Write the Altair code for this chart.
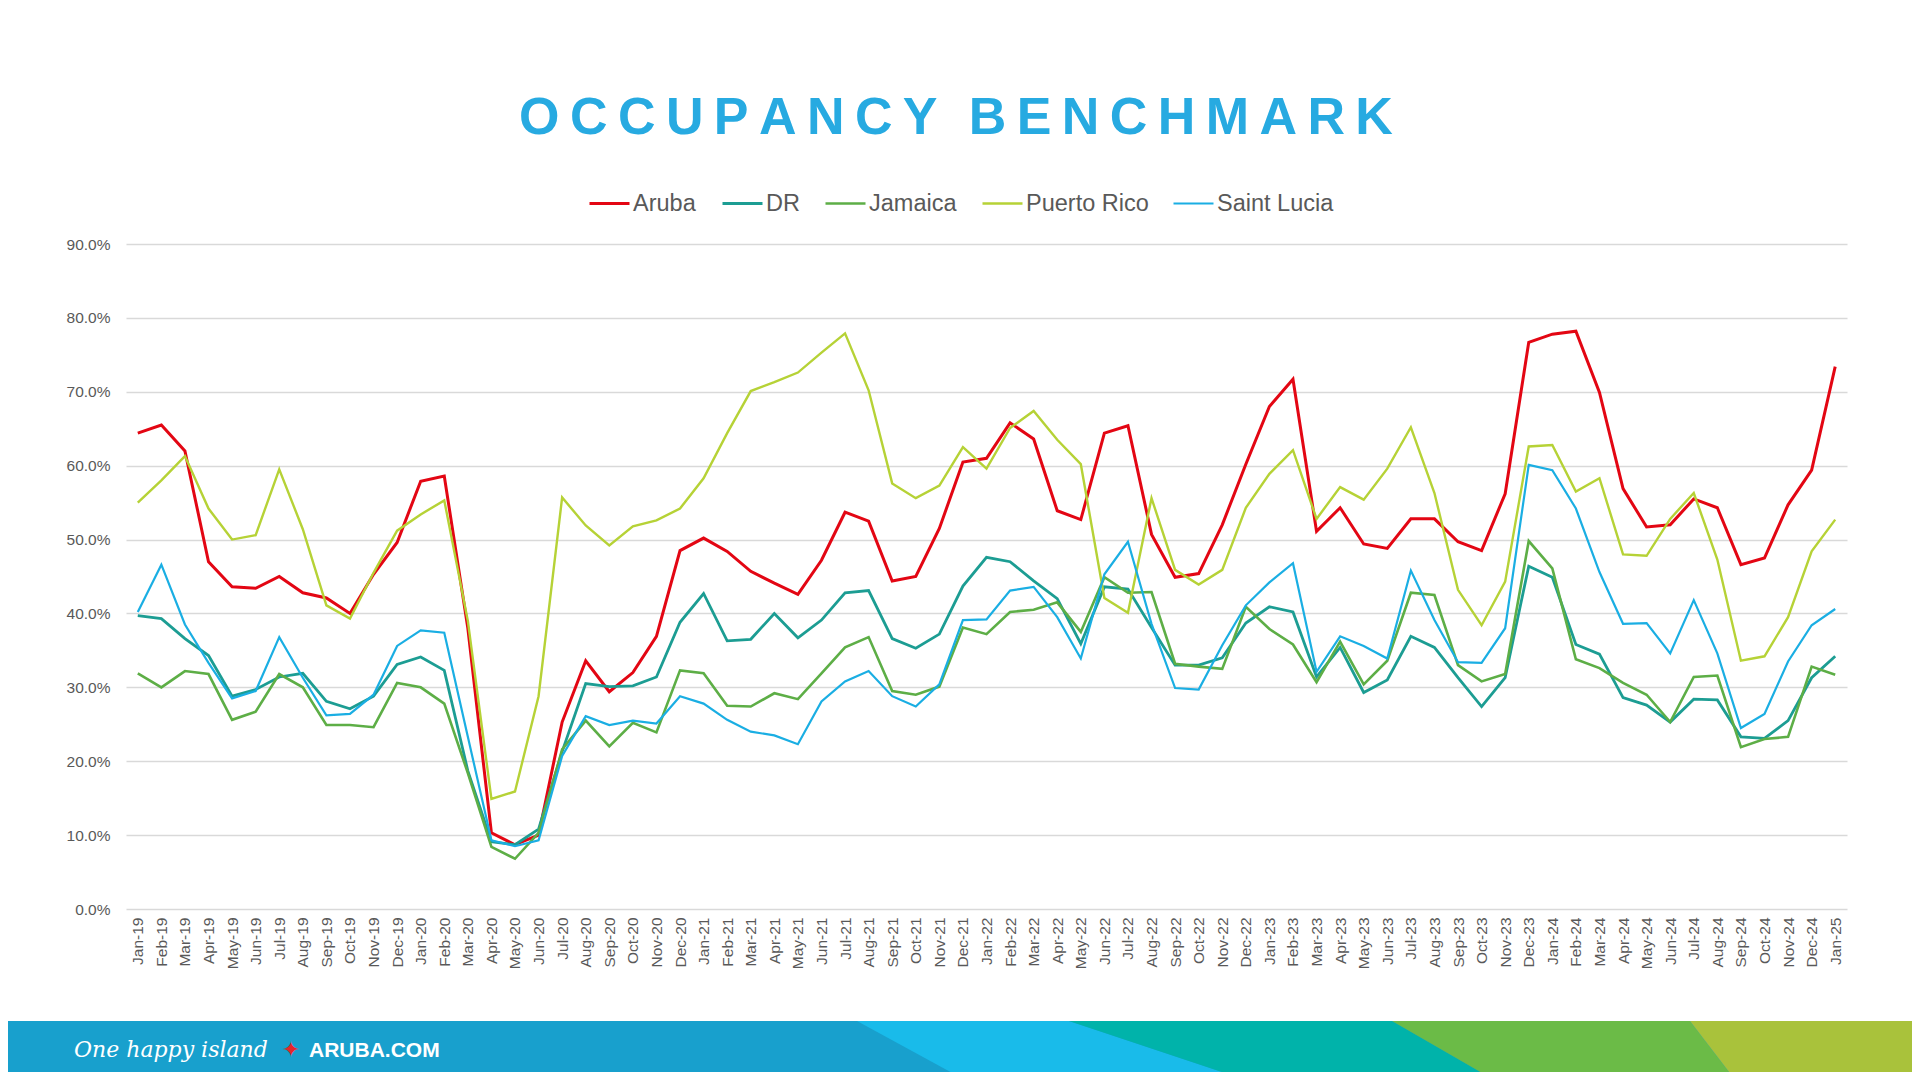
import altair as alt
import pandas as pd

years = ["19", "20", "21", "22", "23", "24"]
mnames = ["Jan", "Feb", "Mar", "Apr", "May", "Jun", "Jul", "Aug", "Sep", "Oct", "Nov", "Dec"]
months = [f"{m}-{y}" for y in years for m in mnames] + ["Jan-25"]

series_names = ["Aruba", "DR", "Jamaica", "Puerto Rico", "Saint Lucia"]
series_colors = ["#E30613", "#1C9D93", "#5DAE46", "#B6D236", "#1AAEE3"]
series_widths = [3.0, 2.2, 2.2, 2.2, 2.2]

aruba = [64.4, 65.5, 62.0, 47.0, 43.6, 43.4, 45.0, 42.8, 42.1, 40.0, 45.3, 49.6,
         57.9, 58.6, 38.0, 10.3, 8.7, 10.0, 25.3, 33.6, 29.4, 32.0, 36.9, 48.5,
         50.2, 48.4, 45.7, 44.1, 42.6, 47.2, 53.7, 52.5, 44.4, 45.0, 51.5, 60.5,
         61.0, 65.8, 63.6, 53.9, 52.7, 64.4, 65.4, 50.7, 44.9, 45.4, 52.0, 60.2,
         68.0, 71.7, 51.1, 54.3, 49.4, 48.8, 52.8, 52.8, 49.7, 48.5, 56.2, 76.7,
         77.8, 78.2, 69.9, 56.9, 51.7, 52.0, 55.5, 54.3, 46.6, 47.5, 54.7, 59.4,
         73.4]
dr = [39.7, 39.3, 36.6, 34.3, 28.8, 29.7, 31.4, 31.9, 28.1, 27.1, 28.8, 33.1,
      34.1, 32.3, 18.7, 9.1, 8.7, 10.8, 21.3, 30.5, 30.1, 30.2, 31.4, 38.8,
      42.7, 36.3, 36.5, 40.0, 36.7, 39.1, 42.8, 43.1, 36.6, 35.3, 37.2, 43.7,
      47.6, 47.0, 44.4, 42.0, 35.9, 43.6, 43.3, 38.1, 33.0, 33.0, 34.0, 38.7,
      40.9, 40.2, 31.4, 35.4, 29.3, 31.0, 36.9, 35.4, 31.3, 27.4, 31.3, 46.4,
      44.9, 35.8, 34.5, 28.6, 27.6, 25.3, 28.4, 28.3, 23.3, 23.1, 25.5, 31.3,
      34.2]
jamaica = [31.9, 30.0, 32.2, 31.8, 25.6, 26.7, 31.8, 30.0, 24.9, 24.9, 24.6, 30.6,
           30.0, 27.8, 18.4, 8.4, 6.8, 10.3, 21.6, 25.5, 22.0, 25.2, 23.9, 32.3,
           31.9, 27.5, 27.4, 29.2, 28.4, 31.9, 35.4, 36.8, 29.5, 29.0, 30.1, 38.1,
           37.2, 40.2, 40.5, 41.5, 37.5, 44.9, 42.8, 42.9, 33.2, 32.8, 32.5, 40.9,
           37.9, 35.8, 30.7, 36.2, 30.4, 33.6, 42.8, 42.5, 33.0, 30.8, 31.8, 49.8,
           46.1, 33.8, 32.6, 30.6, 29.0, 25.3, 31.4, 31.6, 21.9, 23.0, 23.3, 32.8,
           31.7]
puerto_rico = [55.0, 58.0, 61.3, 54.2, 50.0, 50.6, 59.5, 51.4, 41.1, 39.3, 45.5, 51.2,
               53.4, 55.3, 39.0, 14.9, 15.9, 28.8, 55.7, 51.9, 49.2, 51.8, 52.6, 54.2,
               58.3, 64.4, 70.1, 71.3, 72.6, 75.3, 77.9, 70.2, 57.6, 55.6, 57.3, 62.5,
               59.6, 65.1, 67.4, 63.5, 60.2, 42.1, 40.1, 55.6, 45.9, 43.9, 45.9, 54.3,
               58.9, 62.1, 52.8, 57.1, 55.4, 59.6, 65.2, 56.3, 43.2, 38.4, 44.3, 62.6,
               62.8, 56.5, 58.3, 48.0, 47.8, 52.8, 56.3, 47.3, 33.6, 34.2, 39.5, 48.4,
               52.7]
saint_lucia = [40.2, 46.6, 38.5, 33.3, 28.5, 29.5, 36.8, 31.3, 26.2, 26.4, 29.0, 35.6,
               37.7, 37.4, 23.3, 9.3, 8.5, 9.3, 20.7, 26.1, 24.9, 25.5, 25.1, 28.8,
               27.8, 25.6, 24.0, 23.5, 22.3, 28.1, 30.8, 32.2, 28.8, 27.4, 30.4, 39.1,
               39.2, 43.1, 43.6, 39.5, 33.9, 45.3, 49.7, 38.6, 29.9, 29.7, 35.7, 41.1,
               44.2, 46.8, 32.1, 36.9, 35.6, 33.9, 45.8, 39.1, 33.4, 33.3, 38.0, 60.1,
               59.4, 54.2, 45.6, 38.6, 38.7, 34.6, 41.8, 34.6, 24.5, 26.4, 33.5, 38.4,
               40.6]

all_series = [aruba, dr, jamaica, puerto_rico, saint_lucia]
rows = []
for name, vals in zip(series_names, all_series):
    for m, v in zip(months, vals):
        rows.append({"month": m, "series": name, "value": v / 100.0})
df = pd.DataFrame(rows)

FONT = "Liberation Sans"
TEXT_GREY = "#595959"

# ---- main line chart ----
lines = alt.Chart(df).mark_line().encode(
    x=alt.X("month:O", sort=months, title=None,
            scale=alt.Scale(type="point", padding=0.5),
            axis=alt.Axis(labelAngle=-90, labelFontSize=15.5, labelColor=TEXT_GREY,
                          labelFont=FONT, ticks=False, domain=False, grid=False,
                          labelPadding=8, labelOverlap=False)),
    y=alt.Y("value:Q", title=None,
            scale=alt.Scale(domain=[0, 0.9], nice=False),
            axis=alt.Axis(format=".1%", values=[i / 10 for i in range(10)],
                          labelFontSize=15.5, labelColor=TEXT_GREY, labelFont=FONT,
                          ticks=False, domain=False, gridColor="#D9D9D9",
                          gridWidth=1.3, labelPadding=16)),
    color=alt.Color("series:N", sort=series_names,
                    scale=alt.Scale(domain=series_names, range=series_colors),
                    legend=alt.Legend(title=None, orient="none", direction="horizontal",
                                      legendX=462, legendY=-62,
                                      symbolType="stroke", symbolSize=1600,
                                      symbolStrokeWidth=3, labelFontSize=23.5,
                                      labelFont=FONT, labelColor=TEXT_GREY,
                                      labelOffset=2, columnPadding=20,
                                      labelLimit=400)),
    strokeWidth=alt.StrokeWidth("series:N",
                                scale=alt.Scale(domain=series_names, range=series_widths),
                                legend=None),
    order=alt.Order("month_idx:Q"),
).transform_calculate(
    month_idx="indexof(" + str(months) + ", datum.month)"
)

# ---- title ----
title_text = "\u2009".join(list("OCCUPANCY")) + "\u2009\u2009\u2009" + "\u2009".join(list("BENCHMARK"))
title = alt.Chart(pd.DataFrame({"t": [title_text]})).mark_text(
    font=FONT, fontSize=52, fontWeight="bold", color="#27AAE1",
    align="center", baseline="alphabetic"
).encode(x=alt.value(830), y=alt.value(-110), text="t:N")

# ---- footer band (decoration) ----
footer_segments = ["light", "teal", "green", "lime"]
footer_colors = ["#19BBEA", "#00B3AA", "#6BBB47", "#A9C23B"]
seg_rows = []
seg_top = [(857, 1069), (1069, 1392), (1392, 1690), (1690, 1920)]
seg_bot = [(967, 1249), (1249, 1496), (1496, 1736), (1736, 1920)]
for s, t, b in zip(footer_segments, seg_top, seg_bot):
    seg_rows.append({"seg": s, "fy": 0, "xl": t[0], "xr": t[1]})
    seg_rows.append({"seg": s, "fy": 60, "xl": b[0], "xr": b[1]})
seg_df = pd.DataFrame(seg_rows)
base_df = pd.DataFrame({"seg": ["base", "base"], "fy": [0, 60], "xl": [0, 0], "xr": [1920, 1920]})

fx = alt.Scale(domain=[0, 1920], range=[-126, 1794])
fy = alt.Scale(domain=[0, 60], range=[777, 837])

footer_base = alt.Chart(base_df).mark_area(orient="horizontal", color="#18A0CD").encode(
    y=alt.Y("fy:Q", scale=fy, axis=None),
    x=alt.X("xl:Q", scale=fx, axis=None),
    x2="xr:Q",
)
footer_segs = alt.Chart(seg_df).mark_area(orient="horizontal").encode(
    y=alt.Y("fy:Q", scale=fy, axis=None),
    x=alt.X("xl:Q", scale=fx, axis=None),
    x2="xr:Q",
    color=alt.Color("seg:N", scale=alt.Scale(domain=footer_segments, range=footer_colors),
                    legend=None),
)

script_txt = alt.Chart(pd.DataFrame({"t": ["One happy island"]})).mark_text(
    font="DejaVu Serif", fontStyle="italic", fontSize=22, color="white",
    align="left", baseline="middle"
).encode(x=alt.value(-52), y=alt.value(806), text="t:N")
star_txt = alt.Chart(pd.DataFrame({"t": ["\u2726"]})).mark_text(
    font="DejaVu Sans", fontSize=22, color="#E4262B", align="center", baseline="middle"
).encode(x=alt.value(165), y=alt.value(806), text="t:N")
site_txt = alt.Chart(pd.DataFrame({"t": ["ARUBA.COM"]})).mark_text(
    font=FONT, fontSize=21, fontWeight="bold", color="white",
    align="left", baseline="middle"
).encode(x=alt.value(183), y=alt.value(807), text="t:N")

chart = alt.layer(
    lines, footer_base, footer_segs, title, script_txt, star_txt, site_txt
).resolve_scale(
    x="independent", y="independent", color="independent", strokeWidth="independent"
).properties(
    width=1721, height=665,
    autosize=alt.AutoSizeParams(type="none"),
    padding={"left": 118, "top": 236, "right": 65, "bottom": 163},
    background="white",
).configure_view(stroke=None)

chart.save("out.html", embed_options={"renderer": "svg", "actions": False})
